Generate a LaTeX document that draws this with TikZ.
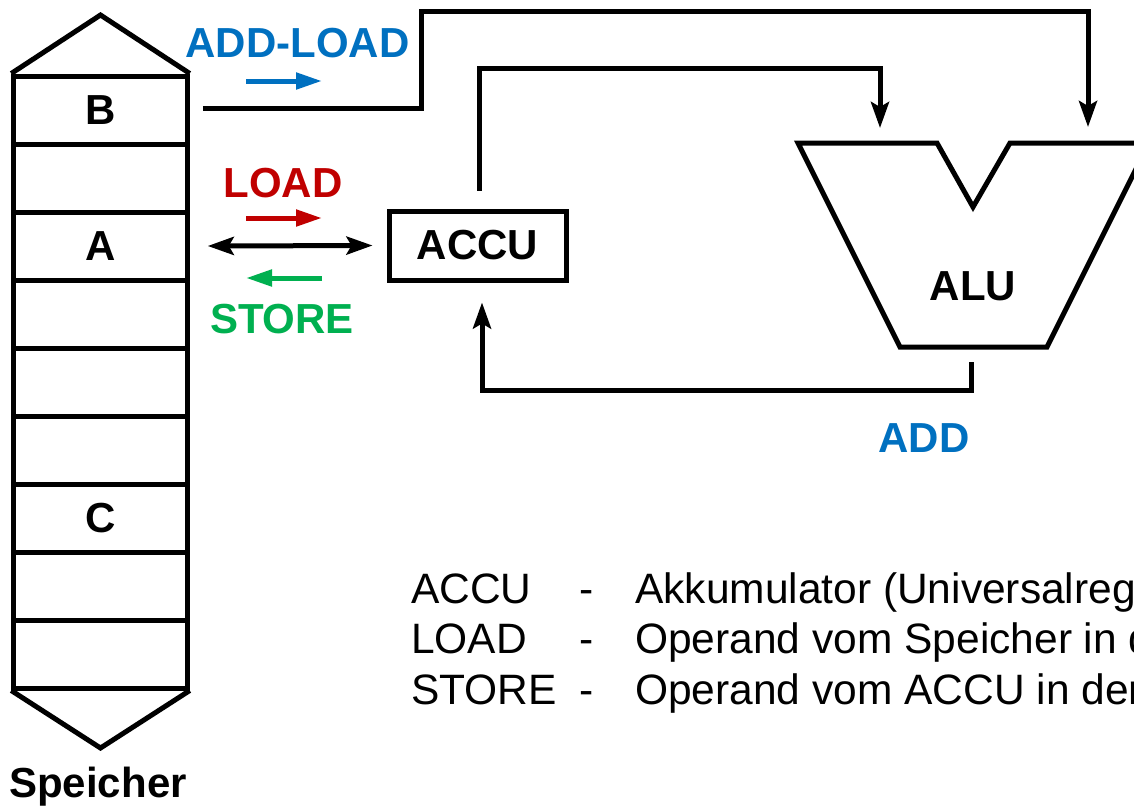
\documentclass[tikz,border=0pt]{standalone}
\usepackage{fontspec}
\setmainfont{Liberation Sans}
\usetikzlibrary{arrows.meta}
\definecolor{addblue}{HTML}{0070C0}
\definecolor{loadred}{HTML}{C00000}
\definecolor{storegreen}{HTML}{00B050}
\begin{document}
\begin{tikzpicture}[x=1pt,y=-1pt,
  lw/.style={line width=5pt},
  bigbold/.style={font=\fontsize{42}{50}\selectfont\bfseries},
  cell/.style={draw,lw,minimum width=173.5pt,minimum height=68pt,inner sep=0pt,bigbold},
  accubox/.style={draw,lw,minimum width=177pt,minimum height=69pt,inner sep=0pt,bigbold},
  wire/.style={lw,line join=miter},
  blk/.style={-{Stealth[length=26pt,width=18pt,inset=5pt]}},
  blkboth/.style={{Stealth[length=26pt,width=18pt,inset=5pt]}-{Stealth[length=26pt,width=18pt,inset=5pt]}},
  coltip/.style={line width=5pt,-{Triangle[length=26pt,width=16pt]}},
  lbl/.style={anchor=base,inner sep=0pt,bigbold},
  desc/.style={anchor=base west,inner sep=0pt,font=\fontsize{42.5}{50}\selectfont},
]
\useasboundingbox (0,0) rectangle (1134,807);
\clip (0,0) rectangle (1134,807);
\fill[white] (0,0) rectangle (1134,807);

% memory
\node[cell] (m1) at (100.5,110) {B};
\node[cell] (m2) at (100.5,178) {};
\node[cell] (m3) at (100.5,246) {A};
\node[cell] (m4) at (100.5,314) {};
\node[cell] (m5) at (100.5,382) {};
\node[cell] (m6) at (100.5,450) {};
\node[cell] (m7) at (100.5,518) {C};
\node[cell] (m8) at (100.5,586) {};
\node[cell] (m9) at (100.5,654) {};
\draw[lw,line join=miter] (m1.north west) -- (100.5,15) -- (m1.north east);
\draw[lw,line join=miter] (m9.south west) -- (100.5,748) -- (m9.south east);
\node[lbl] (speicher) at (98,797) {Speicher};

% ACCU
\node[accubox] (accu) at (477.5,245.5) {ACCU};

% ALU
\draw[lw,line join=miter] (798,143) -- (937,143) -- (973,207) -- (1010,143) -- (1149,143) -- (1047,347) -- (900,347) -- cycle;
\node[lbl] (alu) at (973,300) {ALU};
\coordinate (aluL) at (880,128);
\coordinate (aluR) at (1088,127);
\coordinate (aluOut) at (971,362);

% connectors
\draw[wire,blk] ([xshift=13pt,yshift=2pt]m1.east) -| (421,11) -| (aluR);
\draw[wire,blk] ([xshift=2pt,yshift=18pt]accu.north) |- (aluL |- 0,68) -- (aluL);
\draw[wire,blk] (aluOut) |- (482,390) -- ([xshift=4.5pt,yshift=-20pt]accu.south);
\draw[wire,blkboth] ([xshift=18pt]m3.east) -- ([xshift=-14pt]accu.west);

% coloured direction arrows
\coordinate (al1) at (246,81); \coordinate (al2) at (322,81);
\coordinate (ld1) at (246,218); \coordinate (ld2) at (322,218);
\coordinate (st1) at (322,278); \coordinate (st2) at (246,278);
\draw[coltip,addblue] (al1) -- (al2);
\draw[coltip,loadred] (ld1) -- (ld2);
\draw[coltip,storegreen] (st1) -- (st2);
\node[lbl,text=addblue] (addload) at (297.5,57) {ADD-LOAD};
\node[lbl,text=loadred] (load) at (283,197) {LOAD};
\node[lbl,text=storegreen] (store) at (282,333) {STORE};
\node[lbl,text=addblue] (add) at (924,452) {ADD};

% legend
\node[desc] (k1) at (411,603) {ACCU};
\node[desc] (k2) at (411,653) {LOAD};
\node[desc] (k3) at (411,704) {STORE};
\node[desc] (d1) at (579,603) {-};
\node[desc] (d2) at (579,653) {-};
\node[desc] (d3) at (579,704) {-};
\node[desc] (t1) at (635,603) {Akkumulator (Universalregister)};
\node[desc] (t2) at (635,653) {Operand vom Speicher in den ACCU};
\node[desc] (t3) at (635,704) {Operand vom ACCU in den Speicher};
\end{tikzpicture}
\end{document}
